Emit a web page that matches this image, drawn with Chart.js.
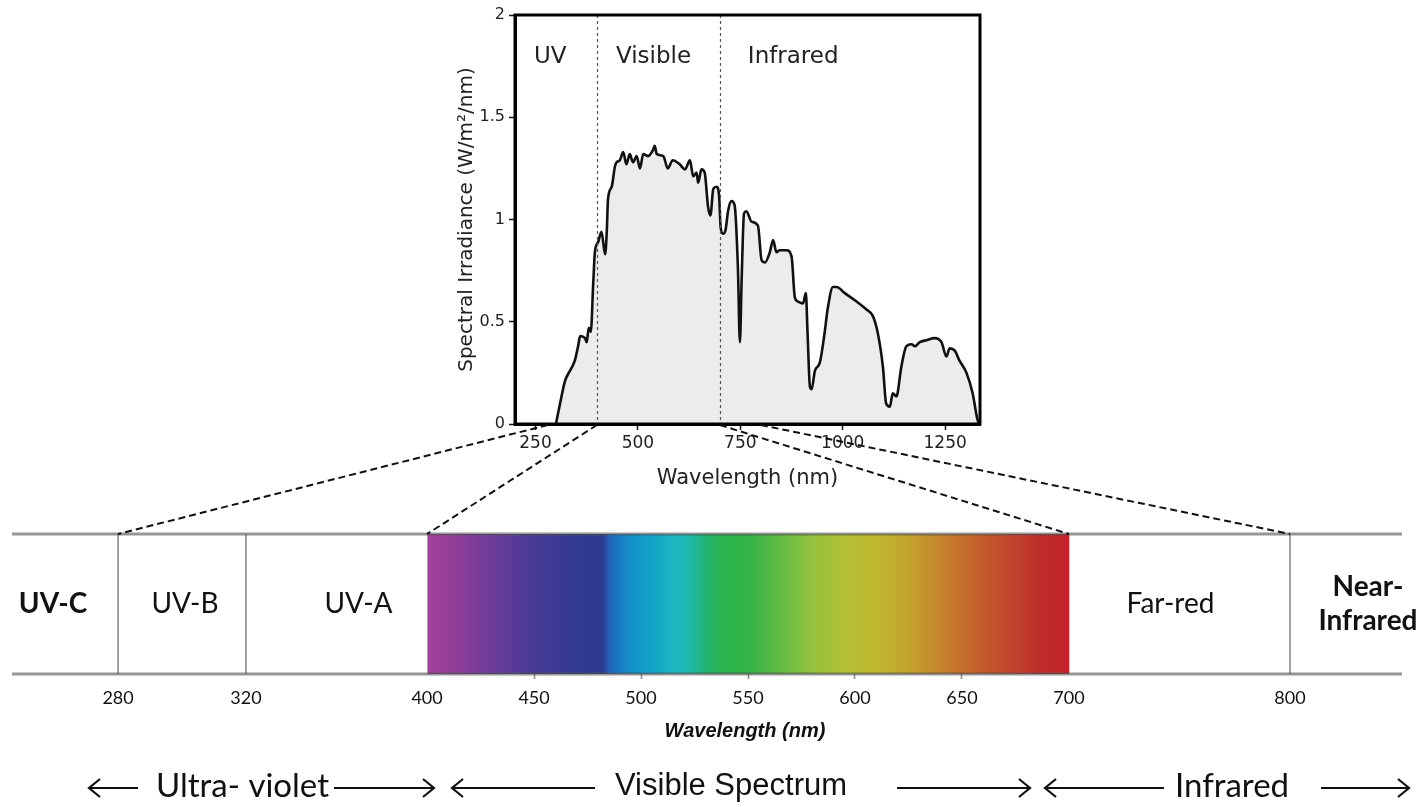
<!DOCTYPE html>
<html>
<head>
<meta charset="utf-8">
<script src="https://cdn.jsdelivr.net/npm/chart.js@4.4.1/dist/chart.umd.min.js"></script>
<style>
  html, body { margin: 0; padding: 0; background: #fff; }
  #wrap { position: relative; width: 1427px; height: 807px; overflow: hidden; }
  #wrap canvas { position: absolute; left: 0; top: 0; }
</style>
</head>
<body>
<div id="wrap">
  <canvas id="irradiance" width="1427" height="807"></canvas>
  <canvas id="band" width="1427" height="807"></canvas>
</div>
<script>
// solar spectrum (top panel)
const wavelengths = [300, 310, 322, 334, 346, 354, 359, 371, 375, 380, 385, 391, 395, 403, 411, 420, 424, 427, 436, 444,
  448, 456, 464, 472, 480, 488, 497, 505, 513, 525, 537, 541, 546, 562, 573, 585, 602, 615, 627, 635,
  643, 647, 655, 663, 671, 677, 684, 692, 698, 702, 708, 714, 720, 728, 736, 744, 749, 753, 759, 765,
  777, 793, 802, 810, 822, 830, 838, 846, 863, 875, 883, 890, 903, 910, 914, 920, 924, 932, 944, 956,
  963, 976, 985, 1005, 1033, 1058, 1073, 1085, 1098, 1106, 1115, 1122, 1131, 1143, 1155, 1168, 1176, 1188, 1204, 1224,
  1241, 1253, 1261, 1273, 1285, 1302, 1317, 1329, 1334];
const irradiance = [0, 0.10, 0.21, 0.26, 0.31, 0.38, 0.43, 0.42, 0.40, 0.47, 0.45, 0.69, 0.84, 0.89, 0.94, 0.83, 0.94, 1.10, 1.16, 1.26,
  1.28, 1.29, 1.33, 1.27, 1.32, 1.28, 1.31, 1.25, 1.32, 1.31, 1.34, 1.36, 1.32, 1.31, 1.25, 1.29, 1.27, 1.245, 1.29, 1.21,
  1.23, 1.18, 1.245, 1.23, 1.065, 1.02, 1.15, 1.16, 1.12, 0.96, 0.93, 0.95, 1.04, 1.09, 1.07, 0.77, 0.40, 0.69, 1.03, 1.04,
  0.99, 0.97, 0.80, 0.79, 0.84, 0.90, 0.84, 0.85, 0.85, 0.82, 0.62, 0.60, 0.59, 0.64, 0.45, 0.18, 0.17, 0.26, 0.30, 0.45,
  0.56, 0.67, 0.67, 0.64, 0.60, 0.56, 0.53, 0.45, 0.28, 0.10, 0.085, 0.15, 0.135, 0.28, 0.38, 0.39, 0.38, 0.40, 0.41, 0.42,
  0.40, 0.33, 0.37, 0.36, 0.31, 0.25, 0.15, 0.02, 0];
const topTicks = [250, 500, 750, 1000, 1250];
const regionNames = ['UV', 'Visible', 'Infrared'];
const regionStarts = [200, 400, 700];
const regionDividers = [400, 700];

// spectrum band (bottom panel)
const bandNames = ['UV-C', 'UV-B', 'UV-A', 'Visible', 'Far-red', 'Near-Infrared'];
const bandEdges = [100, 280, 320, 400, 700, 800, 1000];
const bandTicks = [280, 320, 400, 450, 500, 550, 600, 650, 700, 800];
const bandDividers = [280, 320, 800];
const connectWl = [280, 400, 700, 800];

const boldBands = ['UV-C', 'Near-Infrared'];
const labelShift = [-12, 3, 22, 0, -9, 22];   // px nudges so the band names sit as in the figure
const spectrumStops = [
  [400, '#a1409a'], [415, '#8e3e98'], [430, '#6c3c98'], [445, '#4f3a96'], [460, '#3c3a94'], [475, '#2e3a90'],
  [482, '#2e3c92'], [486, '#1e6cbc'], [495, '#1490c8'], [505, '#12a3c6'], [515, '#1cb6c2'], [522, '#1fb9b0'],
  [530, '#24b472'], [538, '#2ab34c'], [550, '#33b448'], [565, '#62bb43'], [580, '#94c23c'], [595, '#b3c134'],
  [610, '#c0b730'], [625, '#c3a32e'], [640, '#c6842d'], [655, '#c4652c'], [670, '#c14a2c'], [685, '#bf302b'],
  [700, '#c4202a']
];
// the band's wavelength axis is stretched unevenly, so map it piece by piece
const bandScaleStops = [[100, 0], [280, 0.0763], [320, 0.1683], [400, 0.2986], [700, 0.7604], [800, 0.9194], [1000, 1]];

class PiecewiseScale extends Chart.LinearScale {
  static id = 'piecewise';
  static defaults = Chart.LinearScale.defaults;
  frac(v) {
    const s = bandScaleStops;
    if (v <= s[0][0]) return s[0][1];
    for (let i = 1; i < s.length; i++) {
      if (v <= s[i][0]) {
        const [v0, f0] = s[i - 1], [v1, f1] = s[i];
        return f0 + (v - v0) / (v1 - v0) * (f1 - f0);
      }
    }
    return s[s.length - 1][1];
  }
  getPixelForValue(v) { return v === null ? NaN : this.getPixelForDecimal(this.frac(v)); }
  getValueForPixel(p) {
    const d = this.getDecimalForPixel(p), s = bandScaleStops;
    for (let i = 1; i < s.length; i++) {
      if (d <= s[i][1]) {
        const [v0, f0] = s[i - 1], [v1, f1] = s[i];
        return v0 + (d - f0) / (f1 - f0) * (v1 - v0);
      }
    }
    return s[s.length - 1][0];
  }
}
Chart.register(PiecewiseScale);

const topDecor = {
  id: 'topDecor',
  afterDatasetsDraw(chart) {
    const { ctx, chartArea: a, scales: { x } } = chart;
    ctx.save();
    ctx.strokeStyle = '#555';
    ctx.lineWidth = 1.2;
    ctx.setLineDash([3, 3]);
    regionDividers.forEach(w => {
      const px = Math.round(x.getPixelForValue(w)) + 0.5;
      ctx.beginPath();
      ctx.moveTo(px, a.top);
      ctx.lineTo(px, a.bottom);
      ctx.stroke();
    });
    ctx.setLineDash([]);
    ctx.fillStyle = '#222';
    ctx.font = '23px "DejaVu Sans"';
    ctx.textAlign = 'left';
    ctx.textBaseline = 'middle';
    regionNames.forEach((n, i) => ctx.fillText(n, x.getPixelForValue(regionStarts[i]) + (i === 2 ? 28 : 19), a.top + 42));
    ctx.strokeStyle = '#000';
    ctx.lineWidth = 3;
    ctx.strokeRect(a.left, a.top, a.width, a.height);
    ctx.restore();
  }
};

const irrChart = new Chart(document.getElementById('irradiance'), {
  type: 'line',
  data: {
    datasets: [{
      data: wavelengths.map((w, i) => ({ x: w, y: irradiance[i] })),
      borderColor: '#111',
      borderWidth: 2.6,
      backgroundColor: '#ececec',
      fill: 'origin',
      pointRadius: 0,
      cubicInterpolationMode: 'monotone'
    }]
  },
  options: {
    responsive: false,
    animation: false,
    events: [],
    layout: { padding: { left: 451, right: 447, top: 15, bottom: 313 } },
    plugins: { legend: { display: false }, tooltip: { enabled: false } },
    scales: {
      x: {
        type: 'linear', min: 200, max: 1335,
        afterBuildTicks: s => { s.ticks = topTicks.map(v => ({ value: v })); },
        afterFit: s => { s.height = 70; },
        ticks: { callback: v => String(v), color: '#222', font: { family: 'DejaVu Sans', size: 17 }, padding: 3, maxRotation: 0, autoSkip: false },
        grid: { drawOnChartArea: false, tickLength: 6, tickColor: '#111', tickWidth: 1.5 },
        border: { color: '#000', width: 3 },
        title: { display: true, text: 'Wavelength (nm)', color: '#222', font: { family: 'DejaVu Sans', size: 21 }, padding: { top: 0, bottom: 3 } }
      },
      y: {
        min: 0, max: 2,
        afterFit: s => { s.width = 64; },
        ticks: { stepSize: 0.5, callback: v => String(v), color: '#222', font: { family: 'DejaVu Sans', size: 16 }, padding: 4 },
        grid: { drawOnChartArea: false, tickLength: 6, tickColor: '#111', tickWidth: 1.5 },
        border: { color: '#000', width: 3 },
        title: { display: true, text: 'Spectral Irradiance (W/m²/nm)', color: '#222', font: { family: 'DejaVu Sans', size: 20 }, padding: { top: 4, bottom: 0 } }
      }
    }
  },
  plugins: [topDecor]
});

function spectrumFill(c) {
  const chart = c.chart;
  if (!chart.chartArea) return '#fff';
  const x = chart.scales.x;
  const x0 = x.getPixelForValue(400), x1 = x.getPixelForValue(700);
  const g = chart.ctx.createLinearGradient(x0, 0, x1, 0);
  spectrumStops.forEach(([w, col]) => g.addColorStop((w - 400) / 300, col));
  return g;
}

function drawArrow(ctx, x0, x1, y, dir) {
  const tip = dir > 0 ? x1 : x0;
  ctx.beginPath();
  ctx.moveTo(x0, y);
  ctx.lineTo(x1, y);
  ctx.moveTo(tip - 11 * dir, y - 9);
  ctx.lineTo(tip, y);
  ctx.lineTo(tip - 11 * dir, y + 9);
  ctx.stroke();
}

// bottom caption row: arrows and range names
const captionRow = [
  { arrow: [89, 138, -1] },
  { text: 'Ultra- violet', x: 156, font: '33px Lato' },
  { arrow: [334, 434, 1] },
  { arrow: [452, 595, -1] },
  { text: 'Visible Spectrum', x: 615, font: '31px "Liberation Sans"' },
  { arrow: [897, 1030, 1] },
  { arrow: [1045, 1164, -1] },
  { text: 'Infrared', x: 1175, font: '33px Lato' },
  { arrow: [1321, 1409, 1] }
];

const bandDecor = {
  id: 'bandDecor',
  afterDatasetsDraw(chart) {
    const { ctx, chartArea: a, scales: { x } } = chart;
    ctx.save();
    ctx.strokeStyle = '#8a8a8a';
    ctx.lineWidth = 1.6;
    bandDividers.forEach(w => {
      const px = x.getPixelForValue(w);
      ctx.beginPath();
      ctx.moveTo(px, a.top);
      ctx.lineTo(px, a.bottom);
      ctx.stroke();
    });
    ctx.strokeStyle = 'rgba(80,80,80,0.6)';
    ctx.lineWidth = 3;
    [a.top, a.bottom].forEach(y => {
      ctx.beginPath();
      ctx.moveTo(a.left, y);
      ctx.lineTo(a.right, y);
      ctx.stroke();
    });
    ctx.fillStyle = '#111';
    ctx.textAlign = 'center';
    ctx.textBaseline = 'middle';
    const cy = (a.top + a.bottom) / 2;
    bandNames.forEach((n, i) => {
      if (n === 'Visible') return;
      const cx = (x.getPixelForValue(bandEdges[i]) + x.getPixelForValue(bandEdges[i + 1])) / 2 + labelShift[i];
      ctx.font = (boldBands.includes(n) ? 'bold ' : '') + '28px Lato';
      if (n === 'Near-Infrared') {
        ctx.fillText('Near-', cx, cy - 17);
        ctx.fillText('Infrared', cx, cy + 17);
      } else {
        ctx.fillText(n, cx, cy);
      }
    });
    ctx.restore();
  },
  afterDraw(chart) {
    const { ctx, chartArea: a, scales: { x } } = chart;
    const topX = irrChart.scales.x, topBottom = irrChart.chartArea.bottom;
    ctx.save();
    // dashed connectors from the spectrum plot down to the band
    ctx.strokeStyle = '#111';
    ctx.lineWidth = 2;
    ctx.setLineDash([7, 4]);
    connectWl.forEach(w => {
      ctx.beginPath();
      ctx.moveTo(topX.getPixelForValue(w), topBottom + 1);
      ctx.lineTo(x.getPixelForValue(w), a.top);
      ctx.stroke();
    });
    ctx.setLineDash([]);
    ctx.fillStyle = '#111';
    ctx.textAlign = 'center';
    ctx.textBaseline = 'middle';
    ctx.font = 'italic bold 20px "Liberation Sans"';
    ctx.fillText('Wavelength (nm)', 745, 731);
    ctx.textAlign = 'left';
    ctx.strokeStyle = '#111';
    ctx.lineWidth = 2.2;
    captionRow.forEach(it => {
      if (it.arrow) drawArrow(ctx, it.arrow[0], it.arrow[1], 788, it.arrow[2]);
      else { ctx.font = it.font; ctx.fillText(it.text, it.x, 786); }
    });
    ctx.restore();
  }
};

const bandChart = new Chart(document.getElementById('band'), {
  type: 'bar',
  data: {
    labels: ['band'],
    datasets: bandNames.map((n, i) => ({
      label: n,
      data: [[bandEdges[i], bandEdges[i + 1]]],
      backgroundColor: n === 'Visible' ? spectrumFill : '#fff',
      borderWidth: 0,
      grouped: false,
      barPercentage: 1,
      categoryPercentage: 1
    }))
  },
  options: {
    indexAxis: 'y',
    responsive: false,
    animation: false,
    events: [],
    layout: { padding: { left: 12, right: 25, top: 534, bottom: 93 } },
    plugins: { legend: { display: false }, tooltip: { enabled: false } },
    scales: {
      x: {
        type: 'piecewise', min: 100, max: 1000,
        afterBuildTicks: s => { s.ticks = bandTicks.map(v => ({ value: v })); },
        afterFit: s => { s.height = 40; },
        ticks: { callback: v => String(v), color: '#111', font: { family: 'Lato', size: 18 }, padding: 8, maxRotation: 0, autoSkip: false },
        grid: {
          drawOnChartArea: false, tickLength: 5, tickWidth: 1.5,
          tickColor: c => (c.tick && c.tick.value > 400 && c.tick.value < 700) ? '#888' : 'rgba(0,0,0,0)'
        },
        border: { display: false }
      },
      y: { type: 'category', display: false }
    }
  },
  plugins: [bandDecor]
});
</script>
</body>
</html>
